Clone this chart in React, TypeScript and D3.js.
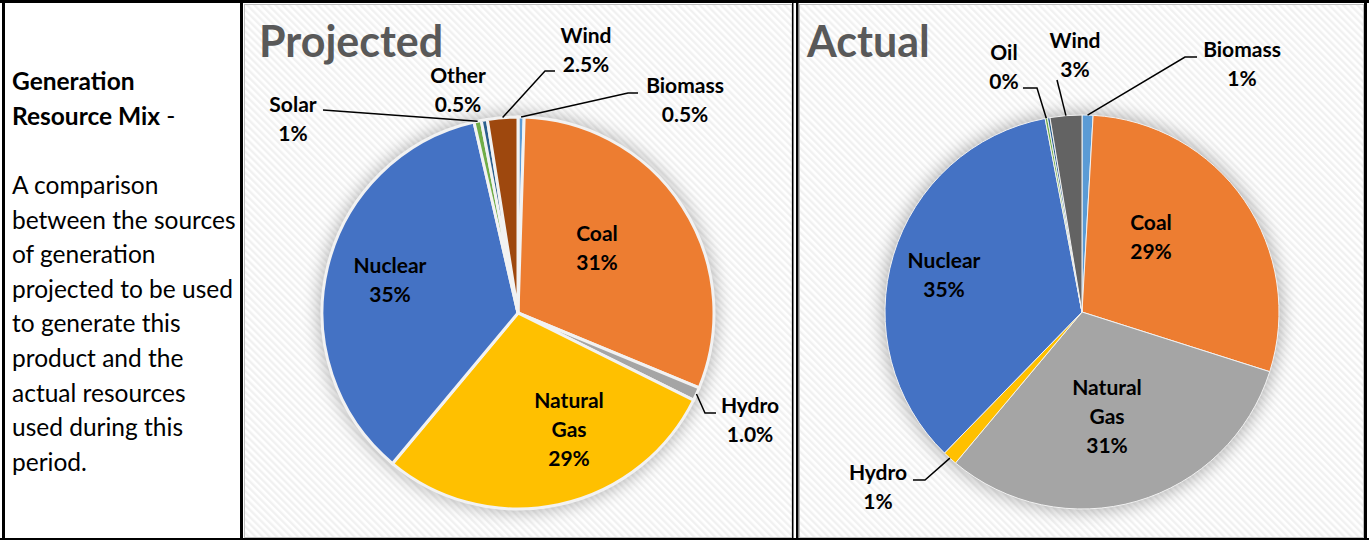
import React from "react";
import * as d3 from "d3";

// ---- data ----
const projectedCategories = ["Biomass", "Coal", "Hydro", "Natural Gas", "Nuclear", "Solar", "Other", "Wind"];
const projectedValues = [0.5, 30.7, 1.1, 28.7, 35.3, 0.6, 0.5, 2.5];
const projectedLabels = ["0.5%", "31%", "1.0%", "29%", "35%", "1%", "0.5%", "2.5%"];

const actualCategories = ["Biomass", "Coal", "Natural Gas", "Hydro", "Nuclear", "Oil", "Other", "Wind"];
const actualValues = [0.9, 29.0, 31.2, 1.2, 34.7, 0.2, 0.2, 2.6];
const actualLabels = ["1%", "29%", "31%", "1%", "35%", "0%", "", "3%"];

const introBold = ["Generation", "Resource Mix"];
const introLines = [
  "A comparison",
  "between the sources",
  "of generation",
  "projected to be used",
  "to generate this",
  "product and the",
  "actual resources",
  "used during this",
  "period.",
];

// ---- styles / layout ----
const projectedColors: Record<string, string> = {
  Biomass: "#5b9bd5",
  Coal: "#ed7d31",
  Hydro: "#a5a5a5",
  "Natural Gas": "#ffc000",
  Nuclear: "#4472c4",
  Solar: "#70ad47",
  Other: "#2b5f8e",
  Wind: "#9e480e",
};
const actualColors: Record<string, string> = {
  Biomass: "#5b9bd5",
  Coal: "#ed7d31",
  "Natural Gas": "#a5a5a5",
  Hydro: "#ffc000",
  Nuclear: "#4472c4",
  Oil: "#70ad47",
  Other: "#2b5f8e",
  Wind: "#636363",
};

type LabelPos = { x: number; y: number; leader?: [number, number][] };

const projectedLayout: Record<string, LabelPos> = {
  Coal: { x: 597, y: 241 },
  Nuclear: { x: 390, y: 273 },
  "Natural Gas": { x: 569, y: 408 },
  Hydro: { x: 750, y: 413, leader: [[716, 413], [705, 413]] },
  Biomass: { x: 685, y: 93, leader: [[638, 93], [628, 93]] },
  Wind: { x: 586, y: 43, leader: [[555, 71], [545, 71]] },
  Other: { x: 458, y: 83 },
  Solar: { x: 293, y: 112, leader: [[323, 110]] },
};
const actualLayout: Record<string, LabelPos> = {
  Coal: { x: 1151, y: 230 },
  Nuclear: { x: 944, y: 268 },
  "Natural Gas": { x: 1107, y: 395 },
  Hydro: { x: 878, y: 480, leader: [[913, 480], [925, 480]] },
  Biomass: { x: 1242, y: 57, leader: [[1197, 57], [1185, 57]] },
  Wind: { x: 1075, y: 48, leader: [[1057, 80]] },
  Oil: { x: 1004, y: 60, leader: [[1023, 88], [1037, 88]] },
};

const FONT = "Lato, 'Open Sans', sans-serif";
const LINE = 29;

type PieProps = {
  title: string;
  titleX: number;
  cx: number;
  cy: number;
  r: number;
  categories: string[];
  values: number[];
  labels: string[];
  colors: Record<string, string>;
  layout: Record<string, LabelPos>;
  gap: number;
};

function PieChart(p: PieProps) {
  const pie = d3
    .pie<number>()
    .sort(null)
    .value((d) => d)
    .startAngle(0)
    .endAngle(2 * Math.PI);
  const arcs = pie(p.values);
  const arc = d3.arc<d3.PieArcDatum<number>>().innerRadius(0).outerRadius(p.r);
  const edge = (a: number): [number, number] => [p.cx + p.r * Math.sin(a), p.cy - p.r * Math.cos(a)];

  return (
    <g>
      <text x={p.titleX} y={57} fontFamily={FONT} fontWeight={700} fontSize={43} fill="#595959">
        {p.title}
      </text>
      <circle cx={p.cx} cy={p.cy} r={p.r + 2} fill="#000" opacity={0.3} filter="url(#glow)" />
      <g transform={`translate(${p.cx},${p.cy})`}>
        {arcs.map((a, i) => (
          <path
            key={i}
            d={arc(a) || ""}
            fill={p.colors[p.categories[i]]}
            stroke="#f2f2f2"
            strokeWidth={p.gap}
          />
        ))}
      </g>
      {arcs.map((a, i) => {
        const cat = p.categories[i];
        const pos = p.layout[cat];
        if (!pos) return null;
        const lines = [...cat.split(" "), p.labels[i]];
        const mid = (a.startAngle + a.endAngle) / 2;
        const pts = pos.leader ? [...pos.leader, edge(mid)] : null;
        return (
          <g key={"l" + i}>
            {pts && (
              <polyline
                points={pts.map((q) => q.join(",")).join(" ")}
                fill="none"
                stroke="#000"
                strokeWidth={1.5}
              />
            )}
            <text
              x={pos.x}
              y={pos.y}
              textAnchor="middle"
              fontFamily={FONT}
              fontWeight={700}
              fontSize={21}
              fill="#000"
            >
              {lines.map((t, k) => (
                <tspan key={k} x={pos.x} dy={k === 0 ? 0 : LINE}>
                  {t}
                </tspan>
              ))}
            </text>
          </g>
        );
      })}
    </g>
  );
}

export default function App() {
  const W = 1369;
  const H = 540;
  return (
    <svg
      width={W}
      height={H}
      style={{ position: "absolute", left: 0, top: 0, background: "#fff" }}
    >
      <defs>
        <pattern id="stripes" patternUnits="userSpaceOnUse" width={5} height={5} patternTransform="rotate(-45)">
          <rect width={5} height={5} fill="#fff" />
          <line x1={1.25} y1={0} x2={1.25} y2={5} stroke="#f0f0f0" strokeWidth={2.2} />
        </pattern>
        <filter id="glow" x="-30%" y="-30%" width="160%" height="160%">
          <feGaussianBlur stdDeviation={9} />
        </filter>
      </defs>

      {/* left text cell */}
      <text fontFamily={FONT} fontSize={24.5} fill="#000">
        <tspan x={12} y={90} fontWeight={700}>
          {introBold[0]}
        </tspan>
        <tspan x={12} y={124.5} fontWeight={700}>
          {introBold[1]}
        </tspan>
        <tspan> -</tspan>
      </text>
      <text fontFamily={FONT} fontSize={24.5} fill="#000">
        {introLines.map((t, i) => (
          <tspan key={i} x={12} y={194 + i * 34.6}>
            {t}
          </tspan>
        ))}
      </text>

      {/* chart areas */}
      <rect x={244.5} y={4.5} width={547.5} height={533} fill="url(#stripes)" stroke="#bfbfbf" strokeWidth={1} />
      <rect x={799.5} y={4.5} width={564} height={533} fill="url(#stripes)" stroke="#bfbfbf" strokeWidth={1} />

      <PieChart
        title="Projected"
        titleX={259}
        cx={518}
        cy={313}
        r={196}
        categories={projectedCategories}
        values={projectedValues}
        labels={projectedLabels}
        colors={projectedColors}
        layout={projectedLayout}
        gap={3}
      />
      <PieChart
        title="Actual"
        titleX={807}
        cx={1082}
        cy={312}
        r={197}
        categories={actualCategories}
        values={actualValues}
        labels={actualLabels}
        colors={actualColors}
        layout={actualLayout}
        gap={1}
      />

      {/* table borders */}
      <g fill="#000">
        <rect x={0} y={0} width={W} height={3} />
        <rect x={2} y={0} width={3} height={H} />
        <rect x={0} y={538} width={W} height={2} />
        <rect x={1364} y={0} width={3} height={H} />
        <rect x={240} y={0} width={3} height={H} />
        <rect x={792} y={0} width={1.5} height={H} />
        <rect x={796} y={0} width={2.5} height={H} />
      </g>
    </svg>
  );
}
